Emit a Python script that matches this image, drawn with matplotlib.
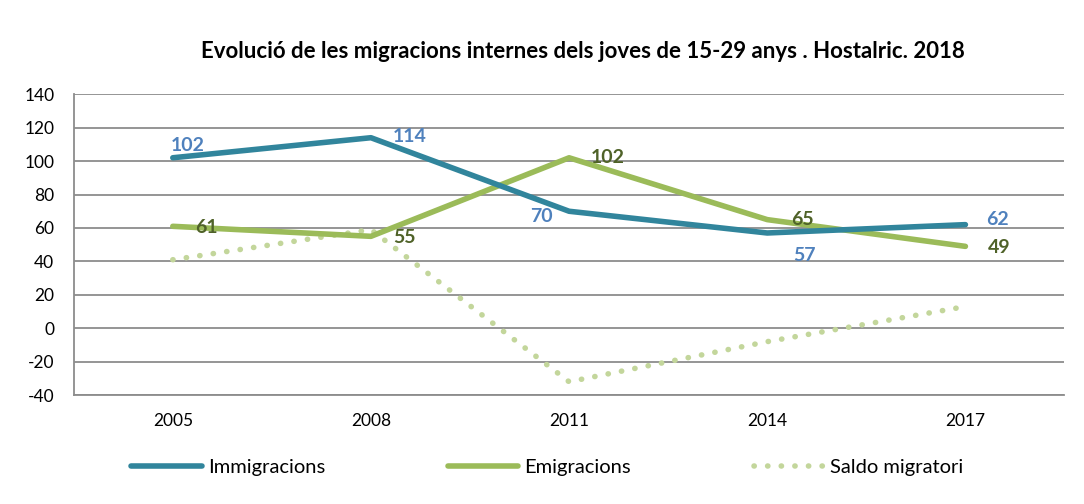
import numpy as np
import matplotlib
matplotlib.use('Agg')
import matplotlib.pyplot as plt
import matplotlib as mpl

# ====================== Données ====================== #
anys = ['2005', '2008', '2011', '2014', '2017']
immigracions = [102, 114, 70, 57, 62]
emigracions  = [61, 55, 102, 65, 49]
saldo        = [41, 59, -32, -8, 13]

# décalages des étiquettes (points)
off_imm = [(11, 9), (28, 1), (-20, -4), (27, -16), (23, 4)]
off_emi = [(24, -1), (24, -1), (28, 0), (25, 0), (24, -1)]

# ====================== Style ====================== #
mpl.rcParams.update({
    'font.family': ['Lato', 'DejaVu Sans'],
    'font.size': 12,
    'axes.unicode_minus': False,
})

c_imm = '#31859C'
c_emi = '#9BBB59'
c_sal = '#C3D69B'
c_grid = '#8C8C8C'

fig = plt.figure(figsize=(10.84, 5.04), dpi=100)
ax = fig.add_axes([0.068, 0.216, 0.914, 0.597])

x = np.arange(len(anys))

ax.plot(x, immigracions, color=c_imm, lw=4.0, solid_capstyle='round',
        solid_joinstyle='round', label='Immigracions', zorder=4)
ax.plot(x, emigracions, color=c_emi, lw=4.0, solid_capstyle='round',
        solid_joinstyle='round', label='Emigracions', zorder=3)
ax.plot(x, saldo, color=c_sal, lw=4.0, linestyle=(0, (0.05, 2.4)),
        dash_capstyle='round', label='Saldo migratori', zorder=2)

for i in range(len(anys)):
    ax.annotate(str(immigracions[i]), (x[i], immigracions[i]), xytext=off_imm[i],
                textcoords='offset points', ha='center', va='center',
                color='#4F81BD', fontweight='bold', fontsize=14, zorder=5)
    ax.annotate(str(emigracions[i]), (x[i], emigracions[i]), xytext=off_emi[i],
                textcoords='offset points', ha='center', va='center',
                color='#4F6228', fontweight='bold', fontsize=14, zorder=5)

ax.set_xlim(-0.5, len(anys) - 0.5)
ax.set_ylim(-40, 140)
ax.set_yticks(np.arange(-40, 141, 20))
ax.set_xticks(x)
ax.set_xticklabels(anys)
ax.tick_params(length=0, labelsize=12.5)
ax.tick_params(axis='y', pad=14)
ax.tick_params(axis='x', pad=13)

ax.grid(axis='y', color=c_grid, lw=1.3)
ax.set_axisbelow(True)
for s in ['top', 'right']:
    ax.spines[s].set_visible(False)
for s in ['left', 'bottom']:
    ax.spines[s].set_color(c_grid)
    ax.spines[s].set_linewidth(1.3)

fig.text(0.538, 0.898, 'Evolució de les migracions internes dels joves de 15-29 anys . Hostalric. 2018',
         ha='center', va='center', fontweight='bold', fontsize=16)

fig.legend(loc='center', bbox_to_anchor=(0.505, 0.073), ncol=3, frameon=False,
           handlelength=3.5, handletextpad=0.3, columnspacing=6.1, fontsize=14.5)

fig.savefig('out.png', dpi=100, facecolor='white')
